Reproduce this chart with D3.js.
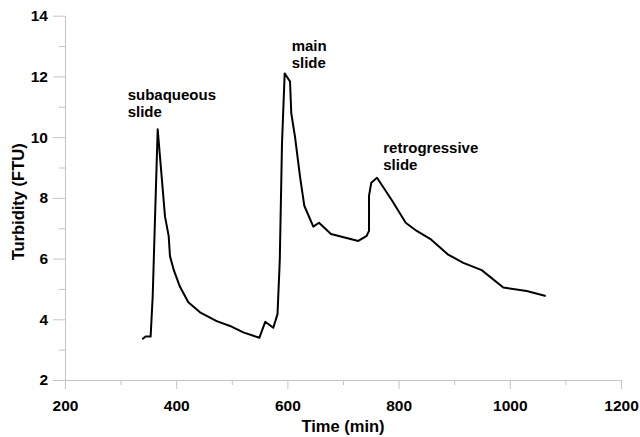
<!DOCTYPE html>
<html>
<head>
<meta charset="utf-8">
<script src="https://cdn.jsdelivr.net/npm/d3@7"></script>
<style>
  html, body { margin: 0; padding: 0; background: #fff; }
  svg { display: block; }
  text { font-family: "Liberation Sans", Arial, sans-serif; font-weight: bold; fill: #000; }
</style>
</head>
<body>
<svg id="chart" width="640" height="437"></svg>
<script>
// Data
const timeMin = [339, 345, 354, 357.7, 366.7, 379.9, 386.5, 388.8, 396, 406.8, 421.8, 442.8, 472.8, 496.8, 520.7, 549.5,
  560.3, 574.6, 582.2, 586.3, 590.3, 595.1, 604.7, 607.0, 613.7, 622.7, 630.4, 646.6, 656.8, 678.4, 727.5,
  742.6, 746.8, 746.8, 750.9, 761.2, 787.6, 812.8, 832.6, 858.3, 888.3, 916.4, 949.5, 988.3, 1030.4, 1064.6];
const turbidity = [3.34, 3.43, 3.43, 4.74, 10.26, 7.38, 6.74, 6.08, 5.6, 5.07, 4.56, 4.23, 3.94, 3.78, 3.57, 3.39,
  3.92, 3.72, 4.17, 5.95, 9.8, 12.1, 11.83, 10.78, 10.01, 8.7, 7.74, 7.05, 7.18, 6.81, 6.58,
  6.75, 6.91, 8.07, 8.5, 8.66, 7.93, 7.18, 6.91, 6.63, 6.14, 5.86, 5.62, 5.05, 4.93, 4.77];
const xMajorTicks = [200, 400, 600, 800, 1000, 1200];
const xMinorTicks = [300, 500, 700, 900, 1100];
const yMajorTicks = [2, 4, 6, 8, 10, 12, 14];
const yMinorTicks = [3, 5, 7, 9, 11, 13];
const annotationText = [["subaqueous", "slide"], ["main", "slide"], ["retrogressive", "slide"]];
const annotationTime = [366, 592, 758];
const annotationValue = [10.5, 12.3, 8.9];

const svg = d3.select("#chart");
const margin = {left: 65, top: 15.7, right: 19, bottom: 57};
const W = 640, H = 437;
const x = d3.scaleLinear().domain([200, 1200]).range([margin.left, W - margin.right]);
const y = d3.scaleLinear().domain([2, 14]).range([H - margin.bottom, margin.top]);
const axisColor = "#c4c4c4";

// X axis minor
const gxm = svg.append("g").attr("transform", `translate(0,${y(2)})`)
  .call(d3.axisBottom(x).tickValues(xMinorTicks).tickSize(5).tickSizeOuter(0).tickFormat(""));
// X axis major
const gx = svg.append("g").attr("transform", `translate(0,${y(2)})`)
  .call(d3.axisBottom(x).tickValues(xMajorTicks).tickSize(9).tickSizeOuter(0).tickPadding(11).tickFormat(d3.format("d")));
// Y axis minor
const gym = svg.append("g").attr("transform", `translate(${x(200)},0)`)
  .call(d3.axisLeft(y).tickValues(yMinorTicks).tickSize(6).tickSizeOuter(0).tickFormat(""));
// Y axis major
const gy = svg.append("g").attr("transform", `translate(${x(200)},0)`)
  .call(d3.axisLeft(y).tickValues(yMajorTicks).tickSize(12).tickSizeOuter(0).tickPadding(5).tickFormat(d3.format("d")));

[gxm, gx, gym, gy].forEach(g => {
  g.selectAll("path.domain").attr("stroke", axisColor).attr("stroke-width", 1);
  g.selectAll(".tick line").attr("stroke", axisColor).attr("stroke-width", 1);
  g.selectAll(".tick text").attr("fill", "#000").style("font-size", "15.5px").style("font-weight", "bold")
    .style("font-family", '"Liberation Sans", Arial, sans-serif');
});

// Axis titles
svg.append("text")
  .attr("x", (x(200) + x(1200)) / 2).attr("y", 432)
  .attr("text-anchor", "middle").style("font-size", "16.5px")
  .text("Time (min)");
svg.append("text")
  .attr("transform", `translate(24,${(y(2) + y(14)) / 2 + 4}) rotate(-90)`)
  .attr("text-anchor", "middle").style("font-size", "16.5px")
  .text("Turbidity (FTU)");

// Line
const pts = timeMin.map((t, i) => [t, turbidity[i]]);
svg.append("path")
  .datum(pts)
  .attr("fill", "none")
  .attr("stroke", "#000")
  .attr("stroke-width", 2)
  .attr("stroke-linejoin", "round")
  .attr("d", d3.line().x(d => x(d[0])).y(d => y(d[1])));

// Annotations
const annOffsets = [[-29.6, -22], [8.7, -16], [8, -18]];
annotationText.forEach((lines, i) => {
  const t = svg.append("text")
    .attr("x", x(annotationTime[i]) + annOffsets[i][0])
    .attr("y", y(annotationValue[i]) + annOffsets[i][1])
    .style("font-size", "15px");
  lines.forEach((s, j) => {
    t.append("tspan").attr("x", x(annotationTime[i]) + annOffsets[i][0]).attr("dy", j === 0 ? 0 : 17).text(s);
  });
});
</script>
</body>
</html>
